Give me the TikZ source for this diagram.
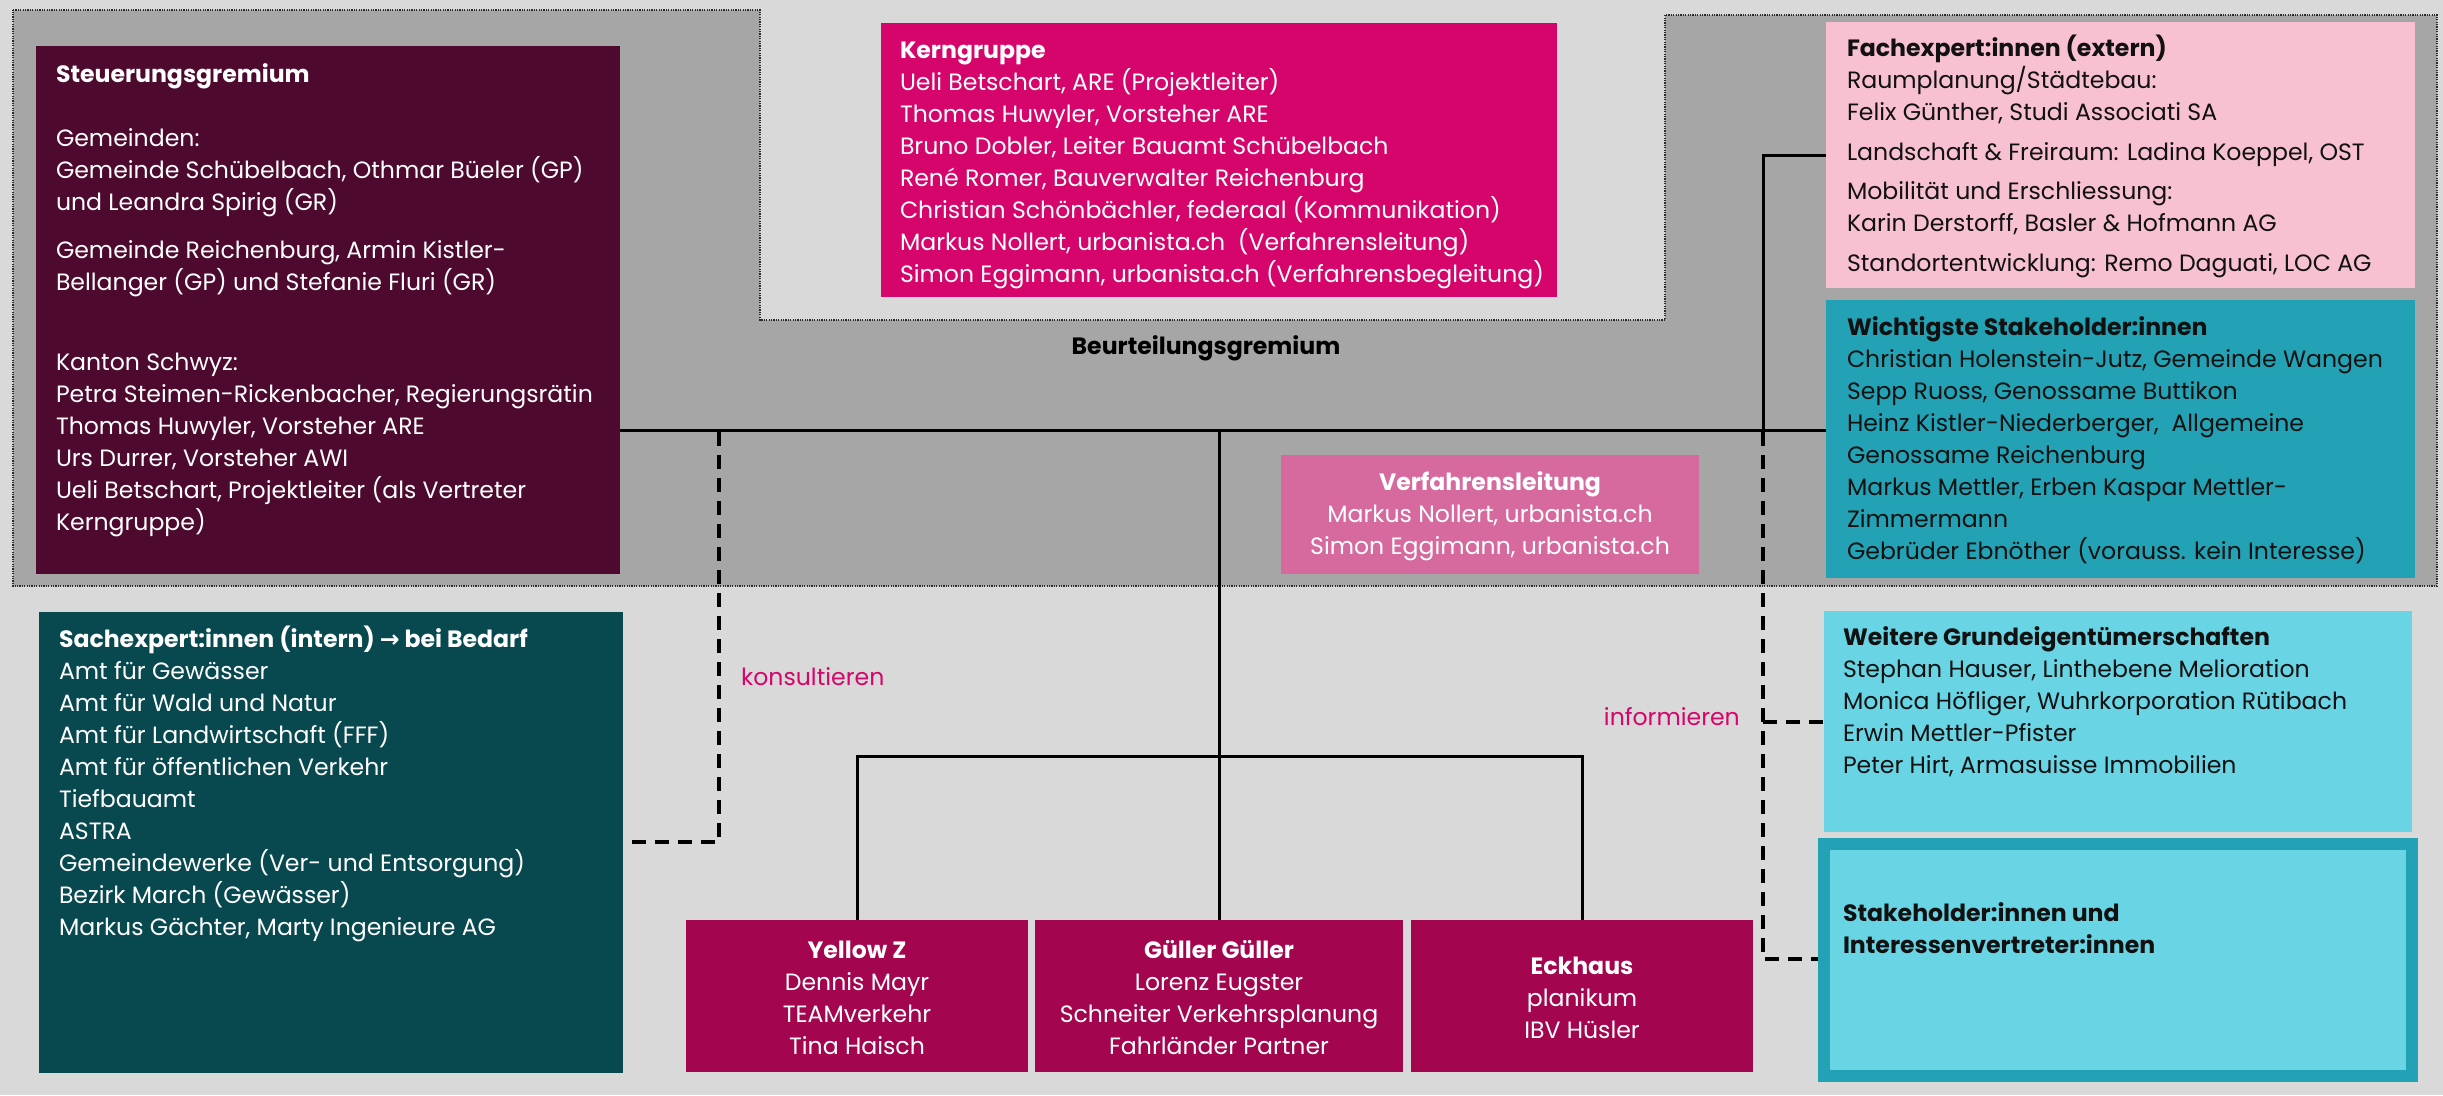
\documentclass[tikz,border=0pt]{standalone}
\usepackage{fontspec}
\setmainfont{Poppins}
\newfontfamily\arrowfont{DejaVu Sans}
\definecolor{bgc}{HTML}{D9D9D9}
\definecolor{grayc}{HTML}{A6A6A6}
\definecolor{dotc}{HTML}{2A2A2A}
\definecolor{steuerc}{HTML}{4E0A2E}
\definecolor{kernc}{HTML}{D6056C}
\definecolor{fachc}{HTML}{F8C1D2}
\definecolor{wichtc}{HTML}{22A2B4}
\definecolor{sachc}{HTML}{08494F}
\definecolor{verfc}{HTML}{D66A9F}
\definecolor{teamc}{HTML}{A3054F}
\definecolor{weitc}{HTML}{69D4E4}
\definecolor{darktext}{HTML}{111111}
\begin{document}
\begin{tikzpicture}[x=1pt,y=-1pt,
  box/.style={rectangle,inner sep=0pt,outer sep=0pt,anchor=north west,draw=none},
  txt/.style={inner sep=0pt,outer sep=0pt,anchor=north west,align=left,font=\fontsize{23.6}{32}\selectfont},
  ctxt/.style={inner sep=0pt,outer sep=0pt,anchor=north,align=center,font=\fontsize{23.6}{32}\selectfont},
  conn/.style={line width=3pt,draw=black,line join=miter},
  dashline/.style={line width=3.5pt,draw=black,dash pattern=on 14pt off 9pt},
  lbl/.style={inner sep=0pt,anchor=west,text=kernc,font=\fontsize{23.6}{32}\selectfont}]

\useasboundingbox (0,0) rectangle (2443,1095);
\fill[bgc] (0,0) rectangle (2443,1095);

% Beurteilungsgremium region
\path[fill=grayc,draw=dotc,line width=2pt,dash pattern=on 1.2pt off 1.2pt]
  (13,10) -- (760,10) -- (760,320) -- (1665,320) -- (1665,15) -- (2437,15)
  -- (2437,586) -- (13,586) -- cycle;

% boxes
\node[box,fill=steuerc,minimum width=584pt,minimum height=528pt] (steuer) at (36,46) {};
\node[box,fill=kernc,minimum width=676pt,minimum height=274pt] (kern) at (881,23) {};
\node[box,fill=fachc,minimum width=589pt,minimum height=266pt] (fach) at (1826,22) {};
\node[box,fill=wichtc,minimum width=589pt,minimum height=278pt] (wicht) at (1826,300) {};
\node[box,fill=verfc,minimum width=418pt,minimum height=119pt] (verf) at (1281,455) {};
\node[box,fill=sachc,minimum width=584pt,minimum height=461pt] (sach) at (39,612) {};
\node[box,fill=teamc,minimum width=342pt,minimum height=152pt] (yz) at (686,920) {};
\node[box,fill=teamc,minimum width=368pt,minimum height=152pt] (gg) at (1035,920) {};
\node[box,fill=teamc,minimum width=342pt,minimum height=152pt] (eck) at (1411,920) {};
\node[box,fill=weitc,minimum width=588pt,minimum height=221pt] (weit) at (1824,611) {};
\node[box,fill=weitc,draw=wichtc,line width=12pt,outer sep=6pt,minimum width=588pt,minimum height=232pt] (stake) at (1818,838) {};

% helper coordinates
\coordinate (hl) at (0,430);
\coordinate (fy) at (0,155);
\coordinate (fj) at (1763,430);
\coordinate (br) at (0,756);
\coordinate (cj) at (719,432);
\coordinate (cy) at (0,842);
\coordinate (ij) at (1763,432);
\coordinate (wy) at (0,722);
\coordinate (sy) at (0,959);

% connectors
\draw[conn] (steuer.east |- hl) -- (wicht.west |- hl);
\draw[conn] (fach.west |- fy) -| (fj);
\draw[conn] (gg.north |- hl) -- (gg.north);
\draw[conn] (yz.north) -- (yz.north |- br) -- (eck.north |- br) -- (eck.north);
\draw[dashline] (cj) |- (sach.east |- cy);
\draw[dashline] (ij) |- (stake.west |- sy);
\draw[dashline] (ij |- wy) -- (weit.west |- wy);

% texts
\node[txt,text=white] (steuerT) at (56,59.6) {\strut\textbf{Steuerungsgremium}\\[32pt]
Gemeinden:\\
Gemeinde Schübelbach, Othmar Büeler (GP)\\
und Leandra Spirig (GR)\\[16pt]
Gemeinde Reichenburg, Armin Kistler-\\
Bellanger (GP) und Stefanie Fluri (GR)\\[48pt]
Kanton Schwyz:\\
Petra Steimen-Rickenbacher, Regierungsrätin\\
Thomas Huwyler, Vorsteher ARE\\
Urs Durrer, Vorsteher AWI\\
Ueli Betschart, Projektleiter (als Vertreter\\
Kerngruppe)};

\node[txt,text=white] (kernT) at (900,35.6) {\strut\textbf{Kerngruppe}\\
Ueli Betschart, ARE (Projektleiter)\\
Thomas Huwyler, Vorsteher ARE\\
Bruno Dobler, Leiter Bauamt Schübelbach\\
René Romer, Bauverwalter Reichenburg\\
Christian Schönbächler, federaal (Kommunikation)\\
Markus Nollert, urbanista.ch\ \ (Verfahrensleitung)\\
Simon Eggimann, urbanista.ch (Verfahrensbegleitung)};

\node[txt,text=darktext] (fachT) at (1847,33.6) {\strut\textbf{Fachexpert:innen (extern)}\\
Raumplanung/Städtebau:\\
Felix Günther, Studi Associati SA\\[8pt]
Landschaft \& Freiraum: Ladina Koeppel, OST\\[7pt]
Mobilität und Erschliessung:\\
Karin Derstorff, Basler \& Hofmann AG\\[8pt]
Standortentwicklung: Remo Daguati, LOC AG};

\node[txt,text=darktext] (wichtT) at (1847,312.6) {\strut\textbf{Wichtigste Stakeholder:innen}\\
Christian Holenstein-Jutz, Gemeinde Wangen\\
Sepp Ruoss, Genossame Buttikon\\
Heinz Kistler-Niederberger,\ \ Allgemeine\\
Genossame Reichenburg\\
Markus Mettler, Erben Kaspar Mettler-\\
Zimmermann\\
Gebrüder Ebnöther (vorauss. kein Interesse)};

\node[ctxt,text=white] (verfT) at (1490,467.6) {\strut\textbf{Verfahrensleitung}\\
Markus Nollert, urbanista.ch\\
Simon Eggimann, urbanista.ch};

\node[txt,text=white] (sachT) at (59,624.6) {\strut\textbf{Sachexpert:innen (intern) {\arrowfont →} bei Bedarf}\\
Amt für Gewässer\\
Amt für Wald und Natur\\
Amt für Landwirtschaft (FFF)\\
Amt für öffentlichen Verkehr\\
Tiefbauamt\\
ASTRA\\
Gemeindewerke (Ver- und Entsorgung)\\
Bezirk March (Gewässer)\\
Markus Gächter, Marty Ingenieure AG};

\node[ctxt,text=white] (yzT) at (857,935.6) {\strut\textbf{Yellow Z}\\
Dennis Mayr\\
TEAMverkehr\\
Tina Haisch};

\node[ctxt,text=white] (ggT) at (1219,935.6) {\strut\textbf{Güller Güller}\\
Lorenz Eugster\\
Schneiter Verkehrsplanung\\
Fahrländer Partner};

\node[ctxt,text=white] (eckT) at (1582,951.6) {\strut\textbf{Eckhaus}\\
planikum\\
IBV Hüsler};

\node[txt,text=darktext] (weitT) at (1843,622.6) {\strut\textbf{Weitere Grundeigentümerschaften}\\
Stephan Hauser, Linthebene Melioration\\
Monica Höfliger, Wuhrkorporation Rütibach\\
Erwin Mettler-Pfister\\
Peter Hirt, Armasuisse Immobilien};

\node[txt,text=darktext] (stakeT) at (1843,898.6) {\strut\textbf{Stakeholder:innen und}\\
\textbf{Interessenvertreter:innen}};

\node[inner sep=0pt,font=\bfseries\fontsize{23.6}{32}\selectfont,text=black] (beurt) at (1206,348) {Beurteilungsgremium};

\node[lbl] (kons) at (741,677) {konsultieren};
\node[lbl,anchor=east] (info) at (1740,717) {informieren};
\end{tikzpicture}
\end{document}
